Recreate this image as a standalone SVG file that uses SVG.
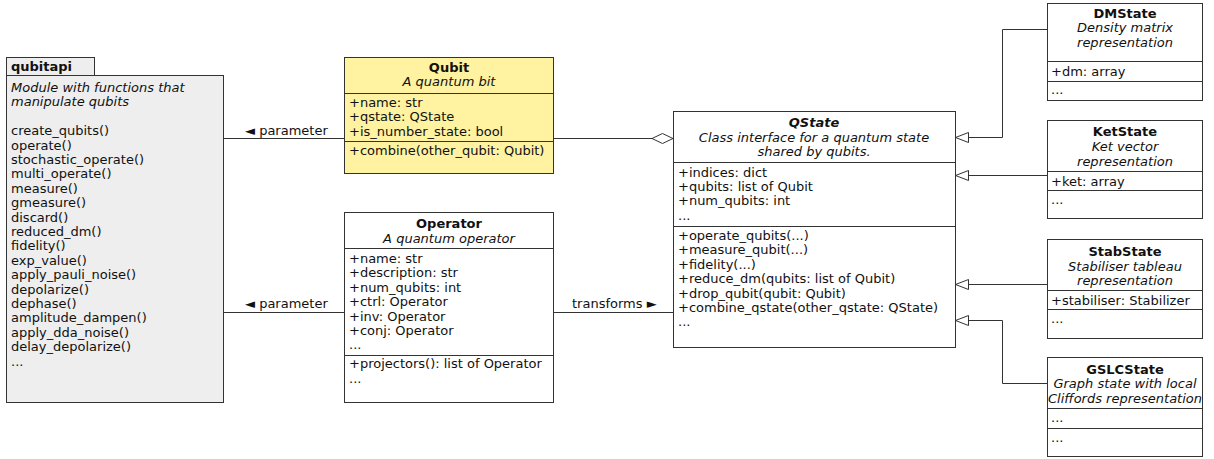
<svg xmlns="http://www.w3.org/2000/svg" width="1214" height="459" viewBox="0 0 1214 459">
<style>
text{font-family:"DejaVu Sans","Noto Sans",sans-serif;font-size:13px;fill:#111}
.b{font-weight:bold}
.i{font-style:italic}
.c{text-anchor:middle}
.box{fill:#fff;stroke:#333;stroke-width:1}
.yel{fill:#fff2a0}
.pkg{fill:#eeeeee;stroke:#333;stroke-width:1}
.sep{stroke:#333;stroke-width:1}
.ln{fill:none;stroke:#333;stroke-width:1}
</style>
<defs>
<marker id="tri" markerUnits="userSpaceOnUse" markerWidth="16" markerHeight="14" viewBox="-1 -7 16 14" refX="13" refY="0" orient="auto">
<path d="M0,-5 L13,0 L0,5 Z" fill="#fff" stroke="#333" stroke-width="1"/>
</marker>
<marker id="dia" markerUnits="userSpaceOnUse" markerWidth="24" markerHeight="14" viewBox="-1 -7 24 14" refX="21" refY="0" orient="auto">
<path d="M0,0 L10.5,-5 L21,0 L10.5,5 Z" fill="#fff" stroke="#333" stroke-width="1"/>
</marker>
</defs>
<rect width="1214" height="459" fill="#fff"/>

<g id="connectors">
<path class="ln" d="M223.5,138.5 H344"/>
<path class="ln" d="M223.5,312.5 H344"/>
<path class="ln" d="M553,138.5 H673" marker-end="url(#dia)"/>
<path class="ln" d="M553,312.5 H673"/>
<path class="ln" d="M1047,29.5 H1002.5 V137.5 H955.5" marker-end="url(#tri)"/>
<path class="ln" d="M1047,175.5 H955.5" marker-end="url(#tri)"/>
<path class="ln" d="M1047,284.5 H955.5" marker-end="url(#tri)"/>
<path class="ln" d="M1047,383.5 H1002.5 V320.5 H955.5" marker-end="url(#tri)"/>
<text x="245" y="135">◄ parameter</text>
<text x="245" y="308">◄ parameter</text>
<text x="572" y="308">transforms ►</text>
</g>

<g id="qubitapi">
<rect class="pkg" x="6.5" y="57.5" width="88" height="18"/>
<rect class="pkg" x="6.5" y="75.5" width="217" height="327"/>
<text class="b" x="11" y="71">qubitapi</text>
<text class="i" x="11" y="92">Module with functions that</text>
<text class="i" x="11" y="106.4">manipulate qubits</text>
<text x="11" y="135.2">create_qubits()</text>
<text x="11" y="149.6">operate()</text>
<text x="11" y="164">stochastic_operate()</text>
<text x="11" y="178.4">multi_operate()</text>
<text x="11" y="192.8">measure()</text>
<text x="11" y="207.2">gmeasure()</text>
<text x="11" y="221.6">discard()</text>
<text x="11" y="236">reduced_dm()</text>
<text x="11" y="250.4">fidelity()</text>
<text x="11" y="264.8">exp_value()</text>
<text x="11" y="279.2">apply_pauli_noise()</text>
<text x="11" y="293.6">depolarize()</text>
<text x="11" y="308">dephase()</text>
<text x="11" y="322.4">amplitude_dampen()</text>
<text x="11" y="336.8">apply_dda_noise()</text>
<text x="11" y="351.2">delay_depolarize()</text>
<text x="11" y="365.6">...</text>
</g>

<g id="qubit">
<rect class="box yel" x="344.5" y="57.5" width="209" height="116"/>
<line class="sep" x1="344.5" y1="93.5" x2="553.5" y2="93.5"/>
<line class="sep" x1="344.5" y1="141.5" x2="553.5" y2="141.5"/>
<text class="b c" x="449" y="72">Qubit</text>
<text class="i c" x="449" y="86">A quantum bit</text>
<text x="349" y="107">+name: str</text>
<text x="349" y="121">+qstate: QState</text>
<text x="349" y="135.5">+is_number_state: bool</text>
<text x="349" y="154.5">+combine(other_qubit: Qubit)</text>
</g>

<g id="operator">
<rect class="box" x="344.5" y="212.5" width="209" height="190"/>
<line class="sep" x1="344.5" y1="248.5" x2="553.5" y2="248.5"/>
<line class="sep" x1="344.5" y1="355.5" x2="553.5" y2="355.5"/>
<text class="b c" x="449" y="228">Operator</text>
<text class="i c" x="449" y="243">A quantum operator</text>
<text x="349" y="262.5">+name: str</text>
<text x="349" y="277">+description: str</text>
<text x="349" y="291.5">+num_qubits: int</text>
<text x="349" y="306">+ctrl: Operator</text>
<text x="349" y="320.5">+inv: Operator</text>
<text x="349" y="335">+conj: Operator</text>
<text x="349" y="349">...</text>
<text x="349" y="368">+projectors(): list of Operator</text>
<text x="349" y="382.5">...</text>
</g>

<g id="qstate">
<rect class="box" x="673.5" y="111.5" width="282" height="236"/>
<line class="sep" x1="673.5" y1="162.5" x2="955.5" y2="162.5"/>
<line class="sep" x1="673.5" y1="226.5" x2="955.5" y2="226.5"/>
<text class="b i c" x="814" y="127">QState</text>
<text class="i c" x="814" y="141.5">Class interface for a quantum state</text>
<text class="i c" x="814" y="156">shared by qubits.</text>
<text x="678" y="176.5">+indices: dict</text>
<text x="678" y="190.5">+qubits: list of Qubit</text>
<text x="678" y="205">+num_qubits: int</text>
<text x="678" y="219.5">...</text>
<text x="678" y="239.5">+operate_qubits(...)</text>
<text x="678" y="254">+measure_qubit(...)</text>
<text x="678" y="268.5">+fidelity(...)</text>
<text x="678" y="283">+reduce_dm(qubits: list of Qubit)</text>
<text x="678" y="297.5">+drop_qubit(qubit: Qubit)</text>
<text x="678" y="312">+combine_qstate(other_qstate: QState)</text>
<text x="678" y="326">...</text>
</g>

<g id="dmstate">
<rect class="box" x="1047.5" y="3.5" width="155" height="97"/>
<line class="sep" x1="1047.5" y1="61.5" x2="1202.5" y2="61.5"/>
<line class="sep" x1="1047.5" y1="81.5" x2="1202.5" y2="81.5"/>
<text class="b c" x="1125" y="17.5">DMState</text>
<text class="i c" x="1125" y="32">Density matrix</text>
<text class="i c" x="1125" y="46.5">representation</text>
<text x="1051" y="75.5">+dm: array</text>
<text x="1051" y="94">...</text>
</g>

<g id="ketstate">
<rect class="box" x="1047.5" y="120.5" width="155" height="98"/>
<line class="sep" x1="1047.5" y1="171.5" x2="1202.5" y2="171.5"/>
<line class="sep" x1="1047.5" y1="190.5" x2="1202.5" y2="190.5"/>
<text class="b c" x="1125" y="136">KetState</text>
<text class="i c" x="1125" y="151">Ket vector</text>
<text class="i c" x="1125" y="165.5">representation</text>
<text x="1051" y="185.5">+ket: array</text>
<text x="1051" y="204">...</text>
</g>

<g id="stabstate">
<rect class="box" x="1047.5" y="239.5" width="155" height="99"/>
<line class="sep" x1="1047.5" y1="290.5" x2="1202.5" y2="290.5"/>
<line class="sep" x1="1047.5" y1="309.5" x2="1202.5" y2="309.5"/>
<text class="b c" x="1125" y="256">StabState</text>
<text class="i c" x="1125" y="270.5">Stabiliser tableau</text>
<text class="i c" x="1125" y="285">representation</text>
<text x="1051" y="304.5">+stabiliser: Stabilizer</text>
<text x="1051" y="323">...</text>
</g>

<g id="gslcstate">
<rect class="box" x="1047.5" y="357.5" width="155" height="99"/>
<line class="sep" x1="1047.5" y1="408.5" x2="1202.5" y2="408.5"/>
<line class="sep" x1="1047.5" y1="428.5" x2="1202.5" y2="428.5"/>
<text class="b c" x="1125" y="374">GSLCState</text>
<text class="i c" x="1125" y="388">Graph state with local</text>
<text class="i c" x="1125" y="402.5">Cliffords representation</text>
<text x="1051" y="422">...</text>
<text x="1051" y="441.5">...</text>
</g>
</svg>
